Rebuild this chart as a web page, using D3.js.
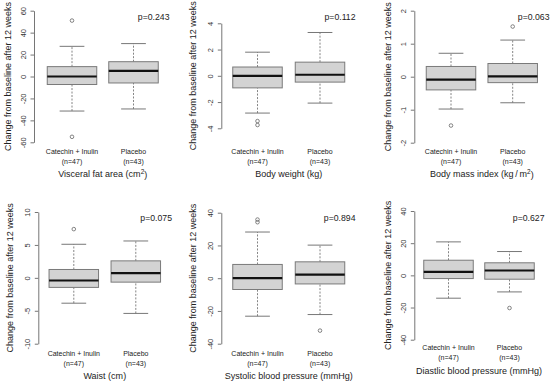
<!DOCTYPE html>
<html>
<head>
<meta charset="utf-8">
<script src="https://cdn.jsdelivr.net/npm/d3@7"></script>
<style>
  body { margin: 0; background: #fff; }
  svg { display: block; font-family: "Liberation Sans", Arial, sans-serif; }
</style>
</head>
<body>
<div id="chart"></div>
<script>

// data
const groups = ['Catechin + Inulin', 'Placebo']
const groupN = ['(n=47)', '(n=43)']
const measures = ['Visceral fat area', 'Body weight', 'Body mass index', 'Waist', 'Systolic blood pressure', 'Diastlic blood pressure']
const units = [['cm', '2'], ['kg', ''], ['kg\u2009/\u2009m', '2'], ['cm', ''], ['mmHg', ''], ['mmHg', '']]
const pValues = ['p=0.243', 'p=0.112', 'p=0.063', 'p=0.075', 'p=0.894', 'p=0.627']
const yTicks = [
    [-60, -40, -20, 0, 20, 40, 60],
    [-4, -2, 0, 2, 4],
    [-2, -1, 0, 1, 2],
    [-10, -5, 0, 5, 10],
    [-40, -20, 0, 20, 40],
    [-40, -20, 0, 20, 40]
]
// [lower whisker, Q1, median, Q3, upper whisker]
const catechinStats = [
    [-31.5, -7.3, 0, 9, 27.5],
    [-2.84, -0.92, 0, 0.67, 1.8],
    [-0.98, -0.4, -0.09, 0.31, 0.71],
    [-3.85, -1.45, -0.4, 1.27, 5.1],
    [-23.2, -6.9, 0, 8.4, 28.2],
    [-14.2, -2, 2.1, 9.4, 20.8]
]
const placeboStats = [
    [-29.6, -5.9, 5.2, 13.5, 30],
    [-2.08, -0.48, 0.08, 1.04, 3.3],
    [-0.79, -0.18, 0.01, 0.4, 1.11],
    [-5.4, -0.65, 0.72, 2.58, 5.6],
    [-22.2, -3.5, 2.2, 10, 20.2],
    [-10.3, -2.4, 3, 7.8, 14.8]
]
const catechinOutliers = [[51, -55], [-3.45, -3.75], [-1.48], [7.4], [35.8, 34.2], []]
const placeboOutliers = [[], [], [1.52], [], [-32], [-20.3]]

// panel geometry (pixels)
const layout = [
    { axisX: 34, yTop: 10.7, yBot: 142.3, cx: [72, 133.5], labY: 152, titleY: 174, labX: 7.5, pX: 169.5, pY: 17 },
    { axisX: 221.3, yTop: 23.3, yBot: 128.3, cx: [257.5, 320], labY: 152, titleY: 174, labX: 192.5, pX: 355.5, pY: 17 },
    { axisX: 414.3, yTop: 10.7, yBot: 142.7, cx: [451, 512.7], labY: 152, titleY: 174, labX: 387.7, pX: 549.5, pY: 17 },
    { axisX: 38.3, yTop: 212, yBot: 343.7, cx: [73.8, 135.8], labY: 354, titleY: 375.5, labX: 9.5, pX: 172, pY: 218 },
    { axisX: 221.3, yTop: 212.7, yBot: 343.7, cx: [257.5, 320], labY: 354, titleY: 376, labX: 192.5, pX: 355.5, pY: 218 },
    { axisX: 414.3, yTop: 211, yBot: 339.7, cx: [448.5, 509.5], labY: 348, titleY: 370.5, labX: 388, pX: 544.5, pY: 218 }
]

const width = 550
const height = 384
const boxW = 49.5

const svg = d3.select('#chart')
    .append('svg')
    .attr('width', width)
    .attr('height', height)

svg.append('rect')
    .attr('width', width)
    .attr('height', height)
    .attr('fill', '#fff')

const drawPanel = (i) => {
    const L = layout[i]
    const ticks = yTicks[i]
    const g = svg.append('g')

    const yScale = d3.scaleLinear()
        .domain(d3.extent(ticks))
        .range([L.yBot, L.yTop])

    const xScale = d3.scaleOrdinal()
        .domain(groups)
        .range(L.cx)

    // y axis
    const axis = g.append('g')
        .attr('transform', `translate(${L.axisX},0)`)
        .call(d3.axisLeft(yScale).tickValues(ticks).tickSize(3.5).tickSizeOuter(0))

    axis.select('.domain').attr('stroke', '#666').attr('stroke-width', 0.9)
    axis.selectAll('.tick line').attr('stroke', '#666').attr('stroke-width', 0.9)
    axis.selectAll('.tick text')
        .attr('transform', 'rotate(-90)')
        .attr('x', 0)
        .attr('y', -10.5)
        .attr('dy', '0.35em')
        .attr('text-anchor', 'middle')
        .attr('font-size', 7.5)
        .attr('fill', '#333')
        .text((d) => d)

    g.append('text')
        .attr('transform', `translate(${L.labX},${(L.yTop + L.yBot) / 2 + (i % 3 == 1 ? 0 : 0)}) rotate(-90)`)
        .attr('dy', '0.35em')
        .attr('text-anchor', 'middle')
        .attr('font-size', 9)
        .attr('fill', '#222')
        .text('Change from baseline after 12 weeks')

    const stats = [catechinStats[i], placeboStats[i]]
    const outliers = [catechinOutliers[i], placeboOutliers[i]]

    const boxes = g.selectAll('g.box')
        .data(groups)
        .join('g')
        .attr('class', 'box')

    // dashed whiskers
    boxes.selectAll('line.whisker')
        .data((d, j) => [[stats[j][0], stats[j][1], d], [stats[j][3], stats[j][4], d]])
        .join('line')
        .attr('x1', (d) => xScale(d[2]))
        .attr('x2', (d) => xScale(d[2]))
        .attr('y1', (d) => yScale(d[0]))
        .attr('y2', (d) => yScale(d[1]))
        .attr('stroke', '#777')
        .attr('stroke-width', 0.9)
        .attr('stroke-dasharray', '2,1.5')

    // caps
    boxes.selectAll('line.cap')
        .data((d, j) => [[stats[j][0], d], [stats[j][4], d]])
        .join('line')
        .attr('x1', (d) => xScale(d[1]) - boxW / 4)
        .attr('x2', (d) => xScale(d[1]) + boxW / 4)
        .attr('y1', (d) => yScale(d[0]))
        .attr('y2', (d) => yScale(d[0]))
        .attr('stroke', '#777')
        .attr('stroke-width', 1)

    boxes.append('rect')
        .attr('x', (d) => xScale(d) - boxW / 2)
        .attr('y', (d, j) => yScale(stats[j][3]))
        .attr('width', boxW)
        .attr('height', (d, j) => yScale(stats[j][1]) - yScale(stats[j][3]))
        .attr('fill', '#d3d3d3')
        .attr('stroke', '#7a7a7a')
        .attr('stroke-width', 1)

    boxes.append('line')
        .attr('x1', (d) => xScale(d) - boxW / 2)
        .attr('x2', (d) => xScale(d) + boxW / 2)
        .attr('y1', (d, j) => yScale(stats[j][2]))
        .attr('y2', (d, j) => yScale(stats[j][2]))
        .attr('stroke', '#111')
        .attr('stroke-width', 2.2)

    boxes.selectAll('circle')
        .data((d, j) => outliers[j].map((v) => [v, d]))
        .join('circle')
        .attr('cx', (d) => xScale(d[1]))
        .attr('cy', (d) => yScale(d[0]))
        .attr('r', 1.8)
        .attr('fill', 'none')
        .attr('stroke', '#666')
        .attr('stroke-width', 0.8)

    // group labels
    boxes.append('text')
        .attr('x', (d) => xScale(d))
        .attr('y', L.labY)
        .attr('dy', '0.35em')
        .attr('text-anchor', 'middle')
        .attr('font-size', 7)
        .attr('fill', '#222')
        .text((d) => d)

    boxes.append('text')
        .attr('x', (d) => xScale(d))
        .attr('y', L.labY + 9.5)
        .attr('dy', '0.35em')
        .attr('text-anchor', 'middle')
        .attr('font-size', 7)
        .attr('fill', '#222')
        .text((d, j) => groupN[j])

    // x title
    const title = g.append('text')
        .attr('x', (L.cx[0] + L.cx[1]) / 2)
        .attr('y', L.titleY)
        .attr('dy', '0.35em')
        .attr('text-anchor', 'middle')
        .attr('font-size', 9)
        .attr('fill', '#222')

    title.append('tspan').text(`${measures[i]} (${units[i][0]}`)
    if (units[i][1]) {
        title.append('tspan')
            .attr('font-size', 6.5)
            .attr('dy', '-0.55em')
            .text(units[i][1])
        title.append('tspan')
            .attr('dy', '0.48em')
            .text(')')
    } else {
        title.append('tspan').text(')')
    }

    g.append('text')
        .attr('x', L.pX)
        .attr('y', L.pY)
        .attr('dy', '0.35em')
        .attr('text-anchor', 'end')
        .attr('font-size', 8.7)
        .attr('fill', '#222')
        .text(pValues[i])
}

d3.range(6).forEach(drawPanel)

</script>
</body>
</html>
